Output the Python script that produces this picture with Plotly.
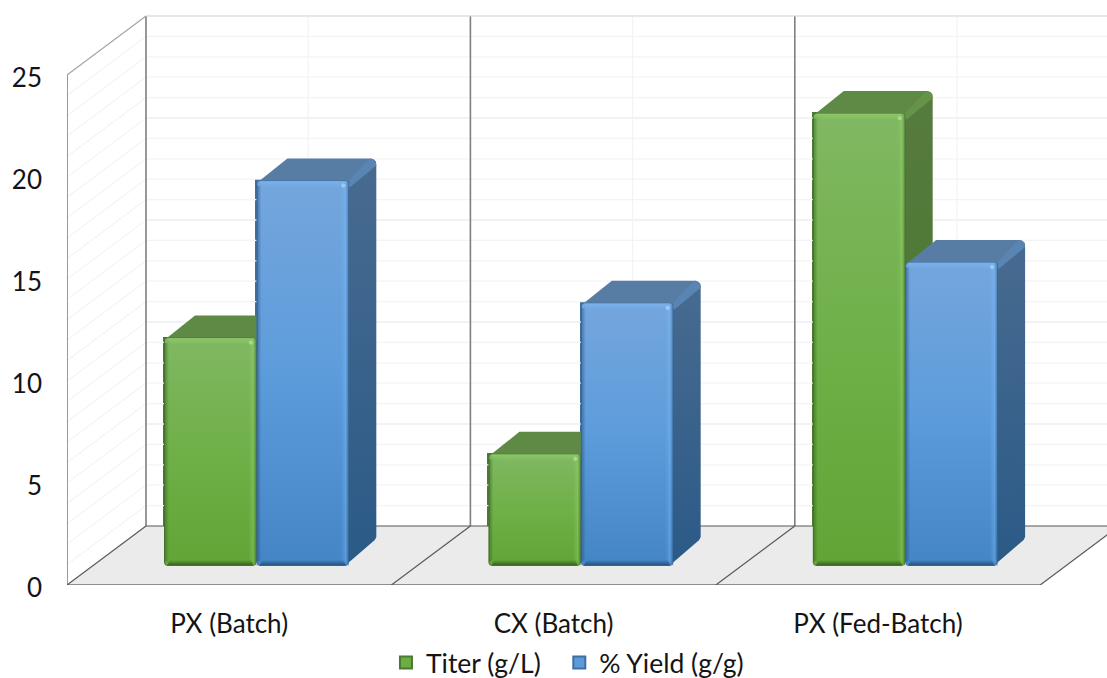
import math
import plotly.graph_objects as go

# Chart data
categories = ["PX (Batch)", "CX (Batch)", "PX (Fed-Batch)"]
titer = [11.2, 5.5, 22.2]
yield_pct = [18.9, 12.9, 14.9]
y_ticks = [0, 5, 10, 15, 20, 25]
series_names = ["Titer (g/L)\u00a0\u00a0", "% Yield (g/g)"]

# Drawing scale: pixels per category and per value unit
PX_CAT = 324.4
PX_VAL = 20.4
WALL_DX = 79 / PX_CAT
WALL_DY = 59 / PX_VAL
BAR_LEFT = 97 / PX_CAT
BAR_W = 92.4 / PX_CAT
BAR_BASE = 19 / PX_VAL
Y_MAX = 571 / PX_VAL
X_MAX = 1040 / PX_CAT

GREEN = dict(bar="#6cae3f", front=["#80b862", "#6fb048", "#62a436"], top="#5f8a45",
             side=["#567b3f", "#44772a"], ridge="#66934a", edge="#4a7a33",
             light="rgba(150,215,110,", dark="rgba(50,90,30,", dot="#a5dc80")
BLUE = dict(bar="#5b9bdb", front=["#74a6dd", "#5d9cdb", "#4485c6"], top="#587da5",
            side=["#486b90", "#2b5a87"], ridge="#5a85b2", edge="#3f6f9f",
            light="rgba(125,190,250,", dark="rgba(35,75,120,", dot="#98ccf5")


def pt(x, y, dx=0.0, dy=0.0):
    """Data point shifted by a screen offset (dy grows downward)."""
    return (x + dx / PX_CAT, y - dy / PX_VAL)


def poly(points, colors=None, vertical=True):
    """Filled polygon; gradient colours run top to bottom or left to right."""
    xs = [p[0] for p in points] + [points[0][0]]
    ys = [p[1] for p in points] + [points[0][1]]
    kw = dict(x=xs, y=ys, mode="lines", line=dict(width=0), fill="toself",
              hoverinfo="skip", showlegend=False)
    if isinstance(colors, str):
        kw["fillcolor"] = colors
    else:
        seq = list(reversed(colors)) if vertical else list(colors)
        n = len(seq) - 1
        scale = [[i / n, c] for i, c in enumerate(seq)]
        kw["fillgradient"] = dict(type="vertical" if vertical else "horizontal",
                                  colorscale=scale)
    return go.Scatter(**kw)


def rounded(l, r, t, b, inset, radius):
    """Rounded rectangle between data edges, inset by (left, right, top, bottom) pixels."""
    il, ir, it, ib = inset
    corners = [(l, t, il + radius, it + radius, 180),
               (r, t, -ir - radius, it + radius, 270),
               (r, b, -ir - radius, -ib - radius, 0),
               (l, b, il + radius, -ib - radius, 90)]
    pts = []
    for cx, cy, ox, oy, start in corners:
        for k in range(6):
            a = math.radians(start + 18 * k)
            pts.append(pt(cx, cy, ox + radius * math.cos(a), oy + radius * math.sin(a)))
    return pts


def bar_traces(cat, slot, value, style):
    l = cat + BAR_LEFT + slot * BAR_W
    r = l + BAR_W
    b = BAR_BASE
    t = BAR_BASE + value
    light, dark = style["light"], style["dark"]
    out = []
    # side face
    out.append(poly([pt(r, t, -2, 2), pt(r, t, 22, -22), pt(r, t, 25, -21), pt(r, t, 27, -19),
                     pt(r, t, 27.5, -16), pt(r, b, 27.5, -29), pt(r, b, 26, -26),
                     pt(r, b, -3, -1), pt(r, b, -3, -3)], style["side"]))
    # top face
    out.append(poly([pt(l, t, 1, 2), pt(l, t, 31, -22), pt(r, t, 23, -22), pt(r, t, -1, 2)],
                    style["top"]))
    # ridge between top and side
    out.append(poly([pt(r, t, -2, 2), pt(r, t, 20, -21), pt(r, t, 24, -21.5), pt(r, t, 27, -19),
                     pt(r, t, 27.5, -15), pt(r, t, 1, 7)], style["ridge"]))
    # front face with bevelled edges
    out.append(poly(rounded(l, r, t, b, (0, 0, 0, 0), 3.5), style["edge"]))
    out.append(poly(rounded(l, r, t, b, (1, 0.5, 0.5, 0.5), 3), style["front"]))
    out.append(poly([pt(l, t, 0.5, 5), pt(l, t, 5, 6), pt(l, b, 5, -6), pt(l, b, 0.5, -4)],
                    [dark + "0.55)", dark + "0)"], vertical=False))
    out.append(poly([pt(r, t, -8, 7), pt(r, t, -3, 2), pt(r, b, -3, -4), pt(r, b, -8, -7)],
                    [light + "0)", light + "0.35)"], vertical=False))
    out.append(poly([pt(r, t, -3.5, 2), pt(r, t, 0, 0), pt(r, b, 0, 0), pt(r, b, -3.5, -4)],
                    [light + "0.35)", dark + "0.5)"], vertical=False))
    out.append(poly([pt(l, t, 3, 1), pt(r, t, -3, 1), pt(r, t, -8, 7), pt(l, t, 7, 7)],
                    [light + "0.5)", light + "0)"]))
    out.append(poly([pt(l, b, 6, -6), pt(r, b, -6, -6), pt(r, b, -3, -0.5), pt(l, b, 3, -0.5)],
                    [dark + "0)", dark + "0.95)"]))
    # specular spot on the upper right corner
    spot = [pt(r, t, -5.5 + 2.2 * math.cos(a / 8 * 2 * math.pi), 5 + 2.2 * math.sin(a / 8 * 2 * math.pi))
            for a in range(8)]
    out.append(poly(spot, style["dot"]))
    return out


def line_trace(segments, color, width):
    xs, ys = [], []
    for (x0, y0), (x1, y1) in segments:
        xs += [x0, x1, None]
        ys += [y0, y1, None]
    return go.Scatter(x=xs, y=ys, mode="lines", line=dict(color=color, width=width),
                      hoverinfo="skip", showlegend=False)


fig = go.Figure()

# Front bar bodies, which also supply the legend swatches
for slot, (name, values, style) in enumerate(zip(series_names, [titer, yield_pct], [GREEN, BLUE])):
    fig.add_trace(go.Bar(
        name=name,
        x=[c + BAR_LEFT + (slot + 0.5) * BAR_W for c in range(len(categories))],
        y=values, base=BAR_BASE, width=BAR_W,
        marker=dict(color=style["bar"], line=dict(color=style["edge"], width=2)),
        showlegend=True, hoverinfo="y",
    ))

n = len(categories)


def back(x, v):
    return (x + WALL_DX, v + WALL_DY)


# Floor
fig.add_trace(poly([(0, 0), (n, 0), back(n, 0), back(0, 0)], "#ebebeb"))

# Pale gridlines on the walls
minor = [v for v in range(0, 26) if v % 5]
major = [v for v in range(5, 26, 5)]
for vals, col, w in [(minor, "#f4f4f6", 1.2), (major, "#eeeef3", 1.6)]:
    fig.add_trace(line_trace([(back(0, v), back(n, v)) for v in vals], col, w))
    fig.add_trace(line_trace([((0, v), back(0, v)) for v in vals], "#f0f0f0", 1))
fig.add_trace(line_trace([(back(c + 0.5, 0), back(c + 0.5, 25)) for c in range(n)], "#f3f3f7", 1.2))

# Wall frame and floor outline
fig.add_trace(line_trace([(back(c, 0), back(c, 25)) for c in range(n)], "#7f7f7f", 1.6))
fig.add_trace(line_trace([((0, 0), (0, 25))], "#808080", 1.6))
fig.add_trace(line_trace([((0, 25), back(0, 25))], "#a6a6a6", 1.2))
fig.add_trace(line_trace([(back(0, 25), back(n, 25))], "#dcdcdc", 1.2))
fig.add_trace(line_trace([(back(0, 0), back(n, 0))], "#595959", 1.2))
fig.add_trace(line_trace([((0, 0), (n, 0))], "#6e6e6e", 1.6))
fig.add_trace(line_trace([((c, 0), back(c, 0)) for c in range(n + 1)], "#595959", 1.2))

# Shaded bar faces, painted back to front within each category
for c in range(n):
    for tr in bar_traces(c, 0, titer[c], GREEN):
        fig.add_trace(tr)
    for tr in bar_traces(c, 1, yield_pct[c], BLUE):
        fig.add_trace(tr)

font = dict(family="Lato, Carlito, sans-serif", size=26, color="#141414")
fig.update_layout(
    width=1107, height=678,
    margin=dict(l=67, r=0, t=14, b=93, autoexpand=False),
    paper_bgcolor="white", plot_bgcolor="white",
    barmode="overlay", bargap=0,
    font=font,
    xaxis=dict(range=[0, X_MAX], tickmode="array", tickvals=[c + 0.5 for c in range(n)],
               ticktext=categories, showgrid=False, zeroline=False, showline=False,
               ticks="", ticklabelstandoff=21, tickfont=font, fixedrange=True),
    yaxis=dict(range=[0, Y_MAX], tickmode="array", tickvals=y_ticks, showgrid=False,
               zeroline=False, showline=False, ticks="", ticklabelstandoff=24,
               ticklabelshift=3, tickfont=font, fixedrange=True),
    legend=dict(orientation="h", x=0.3067, xanchor="left", y=-0.136, yanchor="middle",
                font=dict(family=font["family"], size=26.5, color=font["color"]),
                bgcolor="rgba(0,0,0,0)", traceorder="normal", itemwidth=30),
)

fig.write_html("out.html")
